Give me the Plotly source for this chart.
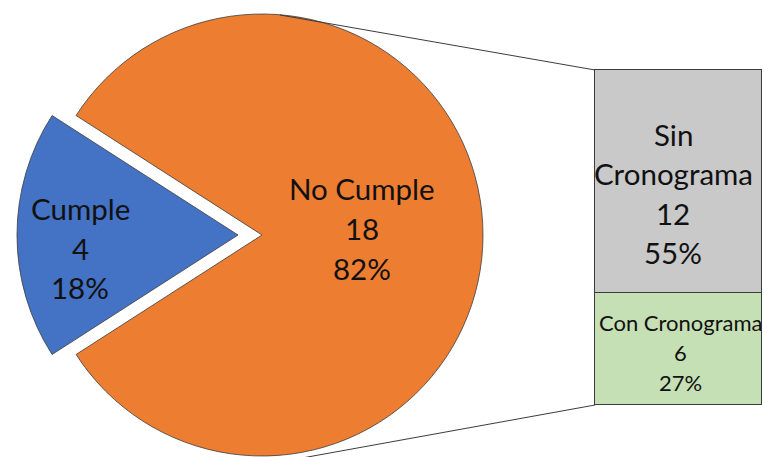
import plotly.graph_objects as go

W, H = 764, 457

# ---- data ----
pie_labels = ["Cumple", "No Cumple"]
pie_values = [4, 18]
pie_colors = ["#4472C4", "#ED7D31"]

bar_labels = ["Con Cronograma", "Sin Cronograma"]
bar_values = [6, 12]
bar_colors = ["#C5E0B4", "#C9C9C9"]
bar_label_lines = [["Con Cronograma"], ["Sin", "Cronograma"]]

total = sum(pie_values)
bar_total = sum(bar_values)

OUTLINE = "#3c3c3c"
TXT = "#111111"
FONT = "Lato"


def px_x(x):
    return x / W


def px_y(y):
    return 1 - y / H


fig = go.Figure()

# ---- pie geometry (pixels) ----
R = 221
cx, cy = 262, 235
pull_px = 24
rotation = 270 - 180 * pie_values[0] / total


def pie_trace(show_idx, center_x):
    colors = [c if i == show_idx else "rgba(0,0,0,0)" for i, c in enumerate(pie_colors)]
    lines = [OUTLINE if i == show_idx else "rgba(0,0,0,0)" for i in range(len(pie_values))]
    return go.Pie(
        labels=pie_labels, values=pie_values, sort=False, direction="clockwise",
        rotation=rotation,
        marker=dict(colors=colors, line=dict(color=lines, width=0.8)),
        textinfo="none", hoverinfo="label+value+percent", showlegend=False,
        domain=dict(x=[px_x(center_x - R), px_x(center_x + R)],
                    y=[px_y(cy + R), px_y(cy - R)]),
    )


fig.add_trace(pie_trace(1, cx))            # No Cumple (not exploded)
fig.add_trace(pie_trace(0, cx - pull_px))  # Cumple (exploded left)

# ---- bar of pie ----
bx0, bx1 = 595, 762
by_top, by_bot = 70, 405
ax_x0, ax_x1 = 585, 764
ax_y0, ax_y1 = 60, 415

ux = 1.0 / (bx1 - bx0)
xr = [-0.5 - (bx0 - ax_x0) * ux, 0.5 + (ax_x1 - bx1) * ux]
uy = bar_total / (by_bot - by_top)
yr = [0 - (ax_y1 - by_bot) * uy, bar_total + (by_top - ax_y0) * uy]

for lab, val, col in zip(bar_labels, bar_values, bar_colors):
    fig.add_trace(go.Bar(
        x=[0], y=[val], width=1, name=lab, showlegend=False,
        marker=dict(color=col, line=dict(color=OUTLINE, width=1)),
        hoverinfo="name+y",
    ))

fig.update_layout(
    barmode="stack", bargap=0,
    width=W, height=H,
    margin=dict(l=0, r=0, t=0, b=0),
    paper_bgcolor="white", plot_bgcolor="rgba(0,0,0,0)",
    xaxis=dict(domain=[px_x(ax_x0), px_x(ax_x1)], range=xr, visible=False, fixedrange=True),
    yaxis=dict(domain=[px_y(ax_y1), px_y(ax_y0)], range=yr, visible=False, fixedrange=True),
)

# ---- connector lines ----
fig.add_shape(type="line", xref="paper", yref="paper",
              x0=px_x(280), y0=px_y(15), x1=px_x(bx0), y1=px_y(by_top),
              line=dict(color=OUTLINE, width=1))
fig.add_shape(type="line", xref="paper", yref="paper",
              x0=px_x(280), y0=px_y(462), x1=px_x(bx0), y1=px_y(by_bot),
              line=dict(color=OUTLINE, width=1))


# ---- labels ----
def add_label(x, yc, lines, size, spacing):
    n = len(lines)
    for i, t in enumerate(lines):
        y = yc + (i - (n - 1) / 2) * spacing
        fig.add_annotation(x=px_x(x), y=px_y(y), xref="paper", yref="paper",
                           text=t, showarrow=False, xanchor="center", yanchor="middle",
                           font=dict(family=FONT, size=size, color=TXT))


def pct(v):
    return f"{round(100 * v / total)}%"


BIG, SMALL = 29.5, 22
add_label(80, 248, [pie_labels[0], str(pie_values[0]), pct(pie_values[0])], BIG, 39.5)
add_label(362, 228, [pie_labels[1], str(pie_values[1]), pct(pie_values[1])], BIG, 40)
add_label(673, 193.5, bar_label_lines[1] + [str(bar_values[1]), pct(bar_values[1])], BIG, 39.3)
add_label(680, 352, bar_label_lines[0] + [str(bar_values[0]), pct(bar_values[0])], SMALL, 30)

fig.write_html(
    "out.html",
    config={"displayModeBar": False},
    post_script="document.body.style.margin='0px';document.body.style.overflow='hidden';",
)
